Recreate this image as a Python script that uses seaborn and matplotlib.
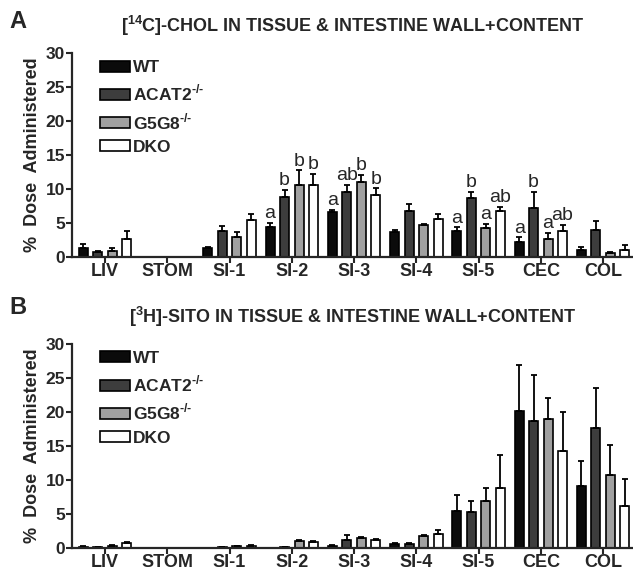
import numpy as np
import pandas as pd
import matplotlib
matplotlib.use('Agg')
import matplotlib.pyplot as plt
import seaborn as sns

# tissues along the gut
tissues = ['LIV', 'STOM', 'SI-1', 'SI-2', 'SI-3', 'SI-4', 'SI-5', 'CEC', 'COL']
genotypes = ['WT', r'ACAT2$^{\text{-/-}}$', r'G5G8$^{\text{-/-}}$', 'DKO']
colors = ['#0b0b0b', '#3d3d3d', '#a0a0a0', '#ffffff']

# panel A: [14C]-cholesterol, mean and upper SEM per genotype
chol_wt = [1.35, 0.0, 1.35, 4.4, 6.65, 3.6, 3.85, 2.25, 1.0]
chol_acat2 = [0.75, 0.0, 3.85, 8.85, 9.5, 6.7, 8.65, 7.15, 3.9]
chol_g5g8 = [0.85, 0.0, 2.95, 10.6, 11.0, 4.7, 4.2, 2.65, 0.65]
chol_dko = [2.65, 0.05, 5.4, 10.6, 9.15, 5.6, 6.8, 3.85, 1.0]
chol_wt_err = [0.55, 0.0, 0.12, 0.6, 0.25, 0.4, 0.5, 0.65, 0.4]
chol_acat2_err = [0.1, 0.0, 0.75, 1.0, 1.1, 1.15, 0.95, 2.45, 1.35]
chol_g5g8_err = [0.5, 0.0, 0.7, 2.15, 1.1, 0.2, 0.65, 0.85, 0.15]
chol_dko_err = [1.2, 0.0, 0.9, 1.65, 0.95, 0.65, 0.6, 0.85, 0.7]

# panel B: [3H]-sitosterol
sito_wt = [0.2, 0.0, 0.05, 0.05, 0.3, 0.6, 5.4, 20.1, 9.1]
sito_acat2 = [0.15, 0.0, 0.1, 0.1, 1.2, 0.6, 5.35, 18.7, 17.6]
sito_g5g8 = [0.35, 0.0, 0.25, 1.1, 1.5, 1.8, 6.85, 19.0, 10.8]
sito_dko = [0.8, 0.05, 0.35, 0.95, 1.2, 2.1, 8.9, 14.3, 6.2]
sito_wt_err = [0.05, 0.0, 0.0, 0.0, 0.1, 0.1, 2.4, 6.8, 3.7]
sito_acat2_err = [0.0, 0.0, 0.0, 0.0, 0.8, 0.1, 1.5, 6.7, 5.9]
sito_g5g8_err = [0.05, 0.0, 0.05, 0.15, 0.1, 0.1, 2.05, 3.1, 4.3]
sito_dko_err = [0.15, 0.0, 0.05, 0.05, 0.1, 0.5, 4.7, 5.7, 4.0]

# significance letters (panel A only)
letters_chol = {'SI-2': ['a', 'b', 'b', 'b'],
                'SI-3': ['a', 'ab', 'b', 'b'],
                'SI-5': ['a', 'b', 'a', 'ab'],
                'CEC': ['a', 'b', 'a', 'ab']}

sns.set_style('ticks')
plt.rcParams['font.family'] = ['Liberation Sans', 'DejaVu Sans']
plt.rcParams['mathtext.fontset'] = 'custom'
plt.rcParams['mathtext.rm'] = 'Liberation Sans:bold'
plt.rcParams['mathtext.bf'] = 'Liberation Sans:bold'


def long_df(series):
    rows = []
    for g, vals in zip(genotypes, series):
        for t, v in zip(tissues, vals):
            rows.append({'tissue': t, 'genotype': g, 'value': v})
    return pd.DataFrame(rows)


def draw_panel(ax, means, errs, title, letters=None):
    df = long_df(means)
    sns.barplot(data=df, x='tissue', y='value', hue='genotype',
                order=tissues, hue_order=genotypes, palette=colors,
                errorbar=None, width=0.93, gap=0.38,
                edgecolor='black', linewidth=1.2, ax=ax)
    bar_conts = list(ax.containers)
    for i, cont in enumerate(bar_conts):
        xs = [b.get_x() + b.get_width() / 2 for b in cont]
        ys = [b.get_height() for b in cont]
        ax.errorbar(xs, ys, yerr=[np.zeros(len(ys)), errs[i]], fmt='none',
                    ecolor='black', elinewidth=1.3, capsize=2.5, capthick=1.3,
                    zorder=1)
        if letters:
            for j, t in enumerate(tissues):
                if t in letters:
                    ax.annotate(letters[t][i], (xs[j], ys[j] + errs[i][j]),
                                xytext=(0, 0.5), textcoords='offset points',
                                ha='center', va='bottom', fontsize=14)
    ax.set_xlim(-0.53, 8.48)
    ax.set_ylim(0, 30)
    ax.set_yticks([0, 5, 10, 15, 20, 25, 30])
    ax.set_xlabel('')
    ax.set_ylabel('%  Dose  Administered', fontsize=13, fontweight='bold',
                  labelpad=3)
    ax.set_title(title, fontsize=13, fontweight='bold', pad=15)
    for lab in ax.get_xticklabels() + ax.get_yticklabels():
        lab.set_fontweight('bold')
    ax.tick_params(axis='x', labelsize=13, length=4, width=1.5, pad=0)
    ax.tick_params(axis='y', labelsize=12.5, length=4, width=1.5, pad=1)
    for s in ['left', 'bottom']:
        ax.spines[s].set_linewidth(1.6)
    sns.despine(ax=ax)
    handles, labels = ax.get_legend_handles_labels()
    ax.legend(handles, labels, loc='upper left', bbox_to_anchor=(0.05, 0.965),
              frameon=False, prop={'weight': 'bold', 'size': 12.5},
              handlelength=1.75, handleheight=0.6, handletextpad=0.15,
              labelspacing=0.45, borderaxespad=0, borderpad=0)


fig = plt.figure(figsize=(6.33, 5.71), dpi=100)
ax_a = fig.add_axes([0.1137, 0.55, 0.8863, 0.357])
ax_b = fig.add_axes([0.1137, 0.04, 0.8863, 0.358])

draw_panel(ax_a, [chol_wt, chol_acat2, chol_g5g8, chol_dko],
           [chol_wt_err, chol_acat2_err, chol_g5g8_err, chol_dko_err],
           r'[$^{\text{14}}$C]-CHOL IN TISSUE & INTESTINE WALL+CONTENT',
           letters_chol)
draw_panel(ax_b, [sito_wt, sito_acat2, sito_g5g8, sito_dko],
           [sito_wt_err, sito_acat2_err, sito_g5g8_err, sito_dko_err],
           r'[$^{\text{3}}$H]-SITO IN TISSUE & INTESTINE WALL+CONTENT')

fig.text(0.015, 1 - 22 / 571, 'A', fontsize=17, fontweight='bold', va='center')
fig.text(0.015, 1 - 307 / 571, 'B', fontsize=17, fontweight='bold', va='center')

fig.savefig('out.png', dpi=100)
